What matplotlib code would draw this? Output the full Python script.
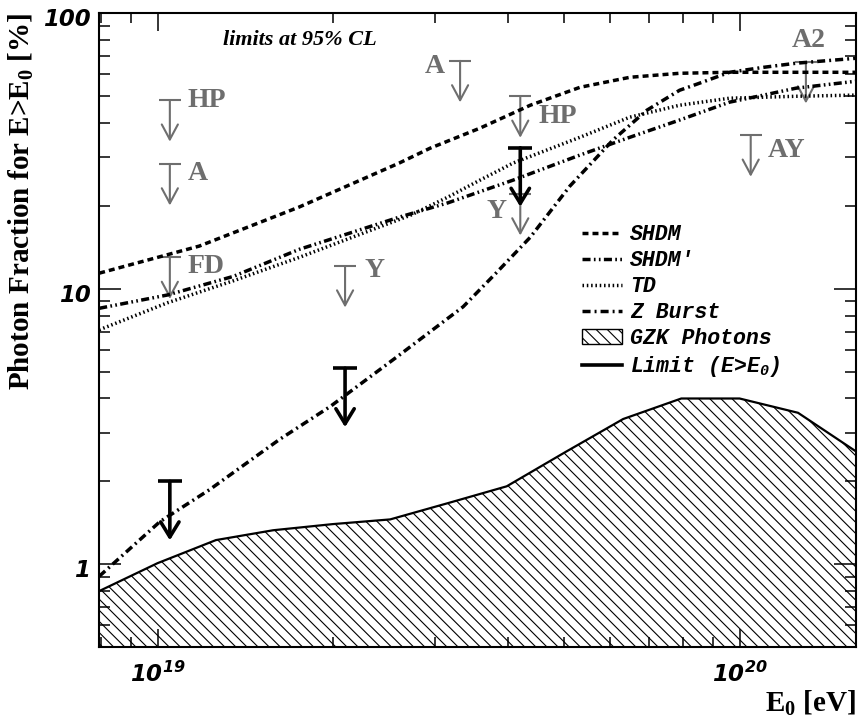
import numpy as np
import matplotlib
matplotlib.use('Agg')
import matplotlib.pyplot as plt
from matplotlib.patches import Patch
from matplotlib.lines import Line2D
from matplotlib.ticker import FixedLocator, LogLocator, NullFormatter
from matplotlib.transforms import ScaledTranslation

plt.rcParams['mathtext.fontset'] = 'custom'
plt.rcParams['mathtext.rm'] = 'Liberation Serif:bold'
plt.rcParams['mathtext.sf'] = 'DejaVu Sans:italic:bold'
plt.rcParams['mathtext.tt'] = 'Liberation Mono:italic:bold'
plt.rcParams['mathtext.default'] = 'rm'
plt.rcParams['lines.scale_dashes'] = False
plt.rcParams['hatch.linewidth'] = 0.8

# Model predictions (E in eV, photon fraction in %)
E_shdm = [7.94e18, 1.18e19, 1.75e19, 2.60e19, 2.94e19, 3.58e19, 4.37e19, 5.32e19,
          6.48e19, 7.89e19, 9.61e19, 1.25e20, 1.585e20]
f_shdm = [11.4, 14.3, 19.8, 28.6, 32.4, 38.3, 46.4, 53.9, 58.6, 60.6, 61.1, 61.1, 61.1]

E_shdm2 = [7.94e18, 1.04e19, 1.35e19, 1.75e19, 2.60e19, 3.15e19, 4.08e19, 5.32e19,
           6.48e19, 7.89e19, 9.61e19, 1.10e20, 1.25e20, 1.585e20]
f_shdm2 = [8.5, 9.5, 11.1, 13.9, 18.2, 20.5, 24.8, 30.6, 35.5, 41.0, 47.6, 50.5, 53.5, 56.7]

E_td = [7.94e18, 1.04e19, 1.35e19, 1.75e19, 2.72e19, 3.15e19, 3.58e19, 4.08e19,
        5.32e19, 6.48e19, 7.89e19, 9.61e19, 1.25e20, 1.585e20]
f_td = [7.1, 8.9, 10.7, 13.0, 18.5, 21.5, 24.8, 28.6, 35.5, 42.0, 46.4, 49.2, 50.0, 50.5]

E_zb = [7.94e18, 1.01e19, 1.23e19, 1.62e19, 1.98e19, 2.58e19, 3.35e19, 3.83e19, 4.37e19,
        5.11e19, 6.06e19, 6.93e19, 7.89e19, 8.44e19, 9.61e19, 1.10e20, 1.25e20, 1.585e20]
f_zb = [0.905, 1.43, 1.87, 2.84, 3.74, 5.67, 8.61, 11.5, 15.4, 23.6, 34.7, 44.5, 52.6,
        55.3, 61.1, 63.7, 65.9, 68.7]

# GZK photon expectation (upper edge of hatched band)
E_gzk = [7.94e18, 1.0e19, 1.26e19, 1.58e19, 2.0e19, 2.51e19, 3.16e19, 3.98e19, 5.01e19,
         6.31e19, 7.94e19, 1.0e20, 1.26e20, 1.585e20]
f_gzk = [0.80, 1.01, 1.225, 1.33, 1.40, 1.456, 1.67, 1.92, 2.55, 3.37, 4.0, 4.0, 3.55, 2.57]

# this work, upper limits
E_lim = [1.05e19, 2.1e19, 4.2e19]
f_lim = [2.0, 5.15, 32.5]

# previous experiments, upper limits
lab_other = ['HP', 'A', 'FD', 'Y', 'A', 'HP', 'Y', 'AY', 'A2']
E_other = [1.05e19, 1.05e19, 1.05e19, 2.1e19, 3.31e19, 4.2e19, 4.2e19, 1.045e20, 1.30e20]
f_other = [48.4, 28.4, 13.0, 12.1, 67.2, 50.0, 22.1, 36.1, 66.6]

# label offsets (points) from the cap of each arrow
lab_off = [(13, -5), (13, -11.5), (13, -11.5), (13.7, -8), (-10.8, -8.6),
           (13, -19.4), (-10, -17.3), (12.2, -15.8), (1.8, 10.8)]
lab_ha = ['left', 'left', 'left', 'left', 'right', 'left', 'right', 'left', 'center']

gray = '#6e6e6e'
ls_shdm = (0, (4.3, 2.9))
ls_shdm2 = (0, (5.8, 2.4, 1.2, 2.4, 1.2, 2.4))
ls_td = (0, (1.1, 2.0))
ls_zb = (0, (5.8, 2.9, 1.4, 2.9))
hatch = '\\\\\\'
lw_curve = 2.5

fig = plt.figure(figsize=(8.59, 7.21), dpi=100)
ax = fig.add_axes([0.1156, 0.1022, 0.8809, 0.8793])
ax.set_xscale('log')
ax.set_yscale('log')

ax.fill_between(E_gzk, f_gzk, 0.1, facecolor='white', edgecolor='black',
                hatch=hatch, linewidth=0, zorder=1)
ax.plot(E_gzk, f_gzk, color='black', lw=1.6, zorder=1.5)

ax.plot(E_shdm, f_shdm, color='black', lw=lw_curve, linestyle=ls_shdm, zorder=3)
ax.plot(E_shdm2, f_shdm2, color='black', lw=lw_curve, linestyle=ls_shdm2, zorder=3)
ax.plot(E_td, f_td, color='black', lw=lw_curve, linestyle=ls_td, zorder=3)
ax.plot(E_zb, f_zb, color='black', lw=lw_curve, linestyle=ls_zb, zorder=3)


def limit_arrow(x, f, color, lw, drop, cap, hw, z):
    ax.plot([x], [f], marker='_', ms=cap, mew=lw, color=color, zorder=z)
    ax.annotate('', xy=(x, f * drop), xytext=(x, f),
                arrowprops=dict(arrowstyle='->,head_length=0.54,head_width=%.2f' % hw,
                                color=color, lw=lw, shrinkA=0, shrinkB=0,
                                mutation_scale=20),
                zorder=z)


for i in range(len(E_other)):
    limit_arrow(E_other[i], f_other[i], gray, 1.5, 0.707, 16.5, 0.29, 2)
    ax.annotate(lab_other[i], xy=(E_other[i], f_other[i]), xytext=lab_off[i],
                textcoords='offset points', ha=lab_ha[i], va='baseline',
                color=gray, fontfamily='Liberation Serif', fontweight='bold',
                fontsize=20, zorder=2)

for x, f in zip(E_lim, f_lim):
    limit_arrow(x, f, 'black', 2.6, 0.611, 17.3, 0.325, 4)

ax.set_xlim(10**18.9, 10**20.2)
ax.set_ylim(0.5, 100)

ax.xaxis.set_major_locator(FixedLocator([1e19, 1e20]))
ax.xaxis.set_minor_locator(LogLocator(base=10, subs=np.arange(2, 10)))
ax.yaxis.set_major_locator(FixedLocator([1, 10, 100]))
ax.yaxis.set_minor_locator(LogLocator(base=10, subs=np.arange(2, 10)))
ax.xaxis.set_minor_formatter(NullFormatter())
ax.yaxis.set_minor_formatter(NullFormatter())
ax.set_xticklabels([r'$\mathsf{10^{19}}$', r'$\mathsf{10^{20}}$'], fontsize=16.5)
ax.set_yticklabels(['1', '10', '100'], fontfamily='DejaVu Sans', fontstyle='italic',
                   fontweight='bold', fontsize=16.5)

ax.tick_params(which='both', direction='in', top=True, right=True, width=1.1)
ax.tick_params(axis='x', which='major', length=13, pad=10)
ax.tick_params(axis='x', which='minor', length=7)
ax.tick_params(axis='y', which='major', length=16, pad=6.5)
ax.tick_params(axis='y', which='minor', length=8)
for s in ax.spines.values():
    s.set_linewidth(1.5)

# y tick labels sit slightly below their ticks in the original
shift = ScaledTranslation(0, -0.04, fig.dpi_scale_trans)
for lab in ax.get_yticklabels():
    lab.set_transform(lab.get_transform() + shift)

ax.set_ylabel(r'Photon Fraction for E>E$_0$ [%]', fontfamily='Liberation Serif',
              fontweight='bold', fontsize=21, loc='top')
ax.yaxis.set_label_coords(-0.083, 1.0)
ax.set_xlabel(r'E$_0$ [eV]', fontfamily='Liberation Serif', fontweight='bold',
              fontsize=21, loc='right')
ax.xaxis.set_label_coords(1.0, -0.066)

ax.text(0.265, 0.958, 'limits at 95% CL', transform=ax.transAxes, ha='center',
        va='center', fontfamily='Liberation Serif', fontweight='bold',
        fontstyle='italic', fontsize=16)

handles = [Line2D([], [], color='black', lw=lw_curve, linestyle=ls_shdm),
           Line2D([], [], color='black', lw=lw_curve, linestyle=ls_shdm2),
           Line2D([], [], color='black', lw=lw_curve, linestyle=ls_td),
           Line2D([], [], color='black', lw=lw_curve, linestyle=ls_zb),
           Patch(facecolor='white', edgecolor='black', hatch=hatch, lw=1),
           Line2D([], [], color='black', lw=2.6)]
labels = ['SHDM', "SHDM'", 'TD', 'Z Burst', 'GZK Photons', r'Limit (E>E$_{\mathtt{0}}$)']
ax.legend(handles, labels, loc='upper left', bbox_to_anchor=(0.638, 0.667),
          frameon=False, borderpad=0, borderaxespad=0, handlelength=1.86,
          handletextpad=0.37, labelspacing=0.23,
          prop=dict(family='Liberation Mono', style='italic', weight='bold', size=15.5))

fig.savefig('out.png', dpi=100)
